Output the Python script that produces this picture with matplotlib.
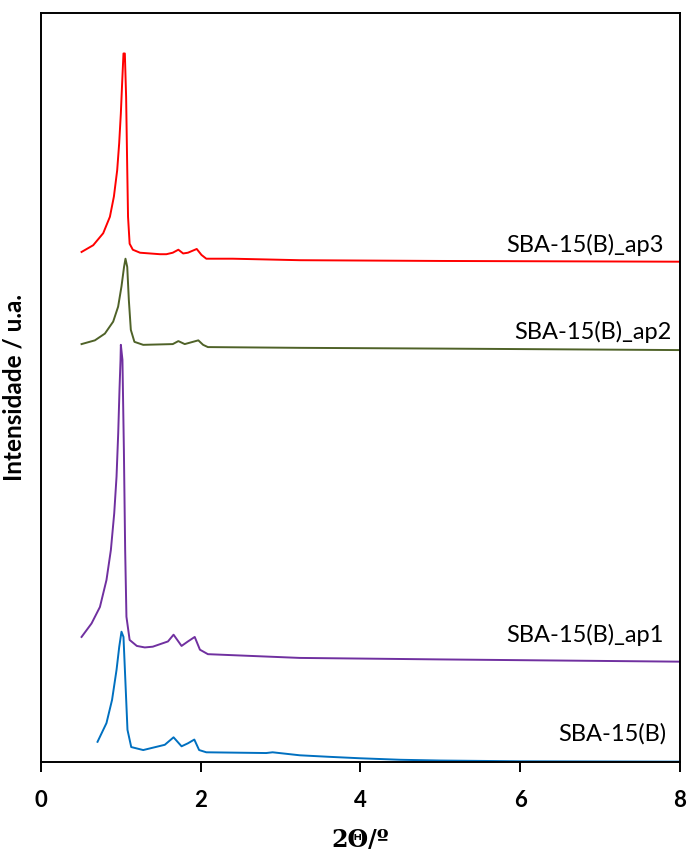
import matplotlib
matplotlib.use("Agg")
import matplotlib.pyplot as plt

x_ap3 = [0.508, 0.654, 0.779, 0.863, 0.913, 0.954, 0.979, 1.00, 1.016, 1.033, 1.05, 1.066,
         1.079, 1.09, 1.11, 1.15, 1.24, 1.49, 1.57, 1.65, 1.72, 1.78, 1.84, 1.95, 2.01,
         2.07, 2.40, 3.24, 5.0, 8.0]
y_ap3 = [681, 690, 706, 728, 755, 790, 826, 866, 906, 946, 946, 888,
         799, 728, 692, 684, 680, 678, 678, 680, 684, 679, 680, 685, 677,
         672, 672, 670, 669, 668]

x_ap2 = [0.508, 0.675, 0.80, 0.904, 0.966, 1.008, 1.04, 1.058, 1.08, 1.10, 1.125, 1.17,
         1.28, 1.65, 1.72, 1.80, 1.97, 2.03, 2.09, 3.24, 5.0, 8.0]
y_ap2 = [558, 563, 572, 588, 608, 635, 661, 672, 661, 617, 577, 561,
         557, 558, 562, 558, 563, 557, 554, 553, 552, 550]

x_ap1 = [0.508, 0.633, 0.738, 0.82, 0.875, 0.917, 0.946, 0.967, 0.983, 0.996, 1.00, 1.02,
         1.038, 1.054, 1.07, 1.11, 1.20, 1.30, 1.40, 1.59, 1.66, 1.76, 1.84, 1.925, 1.99,
         2.09, 3.24, 5.0, 8.0]
y_ap1 = [167, 185, 207, 243, 283, 332, 381, 439, 497, 537, 557, 537,
         417, 283, 194, 163, 155, 153, 154, 161, 170, 155, 161, 167, 150,
         144, 139, 137, 134]

x_b = [0.708, 0.82, 0.89, 0.946, 0.98, 1.008, 1.033, 1.058, 1.083, 1.13, 1.28, 1.55, 1.66,
       1.76, 1.84, 1.92, 1.98, 2.07, 2.82, 2.9, 3.24, 3.6, 4.0, 4.5, 5.0, 6.0, 8.0]
y_b = [27, 52, 83, 123, 154, 174, 167, 105, 43, 20, 16, 23, 33,
       21, 25, 30, 16, 13, 12, 13, 9, 7, 5, 3, 2, 1, 0.5]

nomes = ["SBA-15(B)_ap3", "SBA-15(B)_ap2", "SBA-15(B)_ap1", "SBA-15(B)"]
rotulo_x = [7.80, 7.90, 7.79, 7.83]
rotulo_y = [681, 565, 160, 29]

fonte = ["Lato", "DejaVu Sans"]

fig = plt.figure(figsize=(6.91, 8.52), dpi=100)
ax = fig.add_axes([0.0593, 0.1056, 0.9247, 0.8791])

ax.plot(x_b, y_b, color="#0070C0", lw=1.4)
ax.plot(x_ap1, y_ap1, color="#7030A0", lw=1.4)
ax.plot(x_ap2, y_ap2, color="#4F6228", lw=1.4)
ax.plot(x_ap3, y_ap3, color="#FF0000", lw=1.4)

for nome, tx, ty in zip(nomes, rotulo_x, rotulo_y):
    ax.text(tx, ty, nome, ha="right", va="baseline", fontsize=17, family=fonte)

ax.set_xlim(0, 8)
ax.set_ylim(0, 1000)
ax.set_xticks([0, 2, 4, 6, 8])
ax.set_yticks([])
for s in ax.spines.values():
    s.set_linewidth(1.4)
ax.tick_params(axis="x", direction="out", length=7, width=1.4, pad=13, labelsize=16)
for lab in ax.get_xticklabels():
    lab.set_fontweight("bold")
    lab.set_family(fonte)

ax.set_xlabel("2Θ/º", fontsize=17, fontweight="bold", family=["DejaVu Serif"], va="center")
ax.xaxis.set_label_coords(0.5, -0.104)
ax.set_ylabel("Intensidade / u.a.", fontsize=17.5, fontweight="bold", family=fonte)
ax.yaxis.set_label_coords(-0.024, 0.5)

fig.savefig("out.png", dpi=100)
